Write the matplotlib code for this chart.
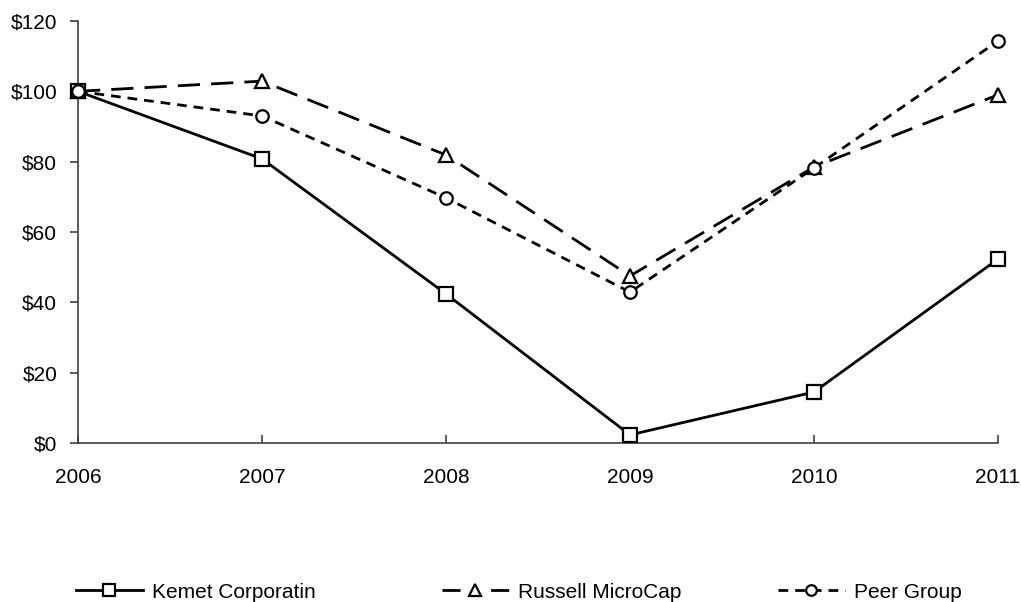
import matplotlib
matplotlib.use("Agg")
import matplotlib.pyplot as plt
from matplotlib.lines import Line2D
from matplotlib.ticker import FuncFormatter

years = [2006, 2007, 2008, 2009, 2010, 2011]
kemet = [100, 80.8, 42.4, 2.3, 14.5, 52.3]
russell = [100, 102.9, 81.9, 47.5, 78.5, 99.0]
peer = [100, 93.0, 69.7, 42.9, 78.2, 114.3]
series_names = ["Kemet Corporatin", "Russell MicroCap", "Peer Group"]

plt.rcParams['font.family'] = ['Liberation Sans', 'DejaVu Sans']
W, H = 1021, 602
fig = plt.figure(figsize=(W / 100, H / 100), dpi=100)
ax = fig.add_axes([78 / W, 1 - 443 / H, (998 - 78) / W, (443 - 21) / H])

mk = dict(markerfacecolor='white', markeredgecolor='black', markeredgewidth=1.6, color='black', lw=2)
l1, = ax.plot(years, kemet, marker='s', markersize=10, linestyle='-', **mk, zorder=3)
l2, = ax.plot(years, russell, marker='^', markersize=10, linestyle=(0, (8, 4)), **mk, zorder=4)
l3, = ax.plot(years, peer, marker='o', markersize=9, linestyle=(0, (3.5, 2.5)), **mk, zorder=5)

ax.set_xlim(2006, 2011)
ax.set_ylim(0, 120)
ax.set_xticks(years)
ax.set_yticks(range(0, 121, 20))
ax.yaxis.set_major_formatter(FuncFormatter(lambda v, p: f"${int(v)}"))
for s in ['top', 'right']:
    ax.spines[s].set_visible(False)
for s in ['left', 'bottom']:
    ax.spines[s].set_color('#404040')
    ax.spines[s].set_linewidth(1.2)
ax.tick_params(axis='y', direction='out', length=6, width=1.2, color='#404040', labelsize=15, pad=9)
ax.tick_params(axis='x', direction='in', length=6, width=1.2, color='#404040', labelsize=15, pad=18)
for l in ax.get_lines():
    l.set_clip_on(False)

proxy2 = Line2D([], [], marker='^', markersize=10, linestyle=(0, (6.5, 11)), **mk)
ycen = 1 - 592 / H
for line, name, x0 in zip([l1, proxy2, l3], series_names, [76, 442, 778]):
    fig.legend([line], [name], loc='center left', bbox_to_anchor=(x0 / W, ycen),
               frameon=False, fontsize=15, handlelength=3.2, handletextpad=0.45,
               borderpad=0, borderaxespad=0, markerscale=0.85)

fig.savefig("out.png", dpi=100)
